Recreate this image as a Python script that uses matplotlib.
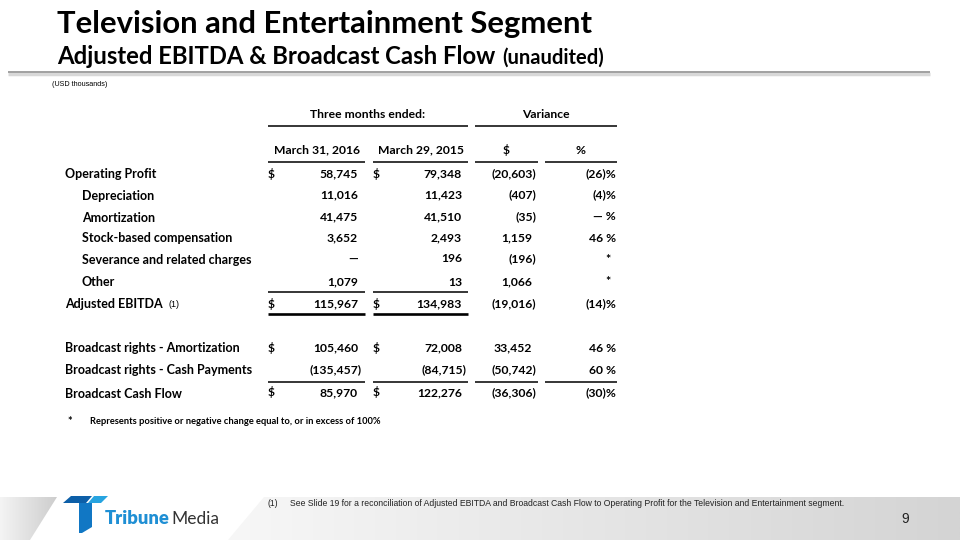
import matplotlib
matplotlib.use('Agg')
import matplotlib.pyplot as plt
import numpy as np
from matplotlib.patches import Polygon
from matplotlib.colors import LinearSegmentedColormap

# table data (USD thousands)
labels = ['Operating Profit', 'Depreciation', 'Amortization', 'Stock-based compensation',
          'Severance and related charges', 'Other', 'Adjusted EBITDA',
          'Broadcast rights - Amortization', 'Broadcast rights - Cash Payments',
          'Broadcast Cash Flow']
indent = [0, 1, 1, 1, 1, 1, 0, 0, 0, 0]
dollar_rows = [0, 6, 7, 9]
mar_2016 = [58745, 11016, 41475, 3652, None, 1079, 115967, 105460, -135457, 85970]
mar_2015 = [79348, 11423, 41510, 2493, 196, 13, 134983, 72008, -84715, 122276]
var_usd = [-20603, -407, -35, 1159, -196, 1066, -19016, 33452, -50742, -36306]
var_pct = [-26, -4, 0, 46, None, None, -14, 46, 60, -30]
col_heads = ['March 31, 2016', 'March 29, 2015', '$', '%']

FONT = ['Lato', 'DejaVu Sans']
ARIAL = ['Liberation Sans', 'DejaVu Sans']
FS_LAB = 9.0
FS_NUM = 8.7
FS_HEAD = 8.7


def fmt(v):
    if v is None:
        return '\u2014'
    if v < 0:
        return '({:,})'.format(-v)
    return '{:,}'.format(v)


def fmt_pct(v):
    if v is None:
        return '*'
    if v == 0:
        return '\u2014 %'
    if v < 0:
        return '({})%'.format(-v)
    return '{} %'.format(v)


def cell(x, y, s, ha='left', size=FS_NUM, drop=4.5):
    # y is the visual middle of the capitals; place on a common baseline
    return ax.text(x, y + drop, s, fontsize=size, fontweight='bold', family=FONT,
                   ha=ha, va='baseline', color='black')


fig = plt.figure(figsize=(9.6, 5.4), dpi=100)
ax = fig.add_axes([0, 0, 1, 1])

# footer band
grad = np.linspace(0, 1, 256).reshape(1, -1)
band = Polygon([(264, 497), (960, 497), (960, 540), (228, 540)], closed=True,
               facecolor='none', edgecolor='none')
ax.add_patch(band)
im = ax.imshow(grad, extent=(228, 960, 540, 497),
               cmap=LinearSegmentedColormap.from_list('g', ['#f7f7f7', '#d4d4d4']),
               aspect='auto', zorder=0)
im.set_clip_path(band)
left = Polygon([(0, 497), (57, 497), (30, 540), (0, 540)], closed=True,
               facecolor='none', edgecolor='none')
ax.add_patch(left)
im2 = ax.imshow(grad, extent=(0, 57, 540, 497),
                cmap=LinearSegmentedColormap.from_list('g2', ['#f4f4f4', '#cdcdcd']),
                aspect='auto', zorder=0)
im2.set_clip_path(left)
ax.set_xlim(0, 960)
ax.set_ylim(540, 0)
ax.axis('off')

# titles
ax.text(57, 33, 'Television and Entertainment Segment', fontsize=22.3, fontweight='bold',
        family=FONT, va='baseline', ha='left', color='black')
sub = ax.text(57, 64, 'Adjusted EBITDA & Broadcast Cash Flow', fontsize=17.2, fontweight='bold',
              family=FONT, va='baseline', ha='left', color='black')
ax.annotate('(unaudited)', xy=(1, 0), xycoords=sub, xytext=(5, 0), textcoords='offset points',
            fontsize=14.5, fontweight='bold', family=FONT, va='bottom', ha='left')
ax.plot([8, 930], [74, 74], color='#d8d8d8', lw=2.5, solid_capstyle='butt')
ax.plot([8, 930], [72, 72], color='#9a9a9a', lw=1.3, solid_capstyle='butt')
ax.text(52, 85, '(USD thousands)', fontsize=5.2, family=ARIAL, va='center', ha='left')

# header
col_span = [(268, 365), (373, 468), (475, 538), (545, 617)]
cell((268 + 468) / 2, 114, 'Three months ended:', ha='center', size=FS_HEAD)
cell((475 + 617) / 2, 114, 'Variance', ha='center', size=FS_HEAD)
ax.plot([268, 468], [126, 126], color='black', lw=1.1, solid_capstyle='butt')
ax.plot([475, 617], [126, 126], color='black', lw=1.1, solid_capstyle='butt')
for (x0, x1), h in zip(col_span, col_heads):
    cell((x0 + x1) / 2, 149, h, ha='center', size=FS_HEAD)
    ax.plot([x0, x1], [162, 162], color='black', lw=1.1, solid_capstyle='butt')

# rows
row_y = [174, 195, 217, 238, 259, 282, 304, 348, 370, 393]
right = [358, 462, 532, 616]
for i, lab in enumerate(labels):
    y = row_y[i]
    t = cell(65 + 17 * indent[i], y, lab, size=FS_LAB)
    if lab == 'Adjusted EBITDA':
        ax.annotate('(1)', xy=(1, 0.5), xycoords=t, xytext=(4, 0), textcoords='offset points',
                    fontsize=6.5, family=ARIAL, ha='left', va='center')
    if i in dollar_rows:
        cell(268, y, '$', drop=3.5)
        cell(373, y, '$', drop=3.5)
    for j, vals in enumerate([mar_2016, mar_2015, var_usd]):
        s = fmt(vals[i])
        cell(right[j] + (4 if s.endswith(')') else 0), y, s, ha='right', drop=3.5)
    p = fmt_pct(var_pct[i])
    cell(right[3] - (5 if p == '*' else 0), y, p, ha='right', drop=3.5)

# rules
for x0, x1 in col_span[:2]:
    ax.plot([x0, x1], [292, 292], color='black', lw=1.1, solid_capstyle='butt')
    ax.plot([x0, x1], [314, 314], color='black', lw=1.9, solid_capstyle='butt')
for x0, x1 in col_span:
    ax.plot([x0, x1], [382, 382], color='black', lw=1.1, solid_capstyle='butt')

cell(67, 421, '*', size=8)
cell(90, 420, 'Represents positive or negative change equal to, or in excess of 100%', size=6.75)

# footnote and page number
ax.text(268, 503, '(1)', fontsize=6.2, family=ARIAL, ha='left', va='center', color='#222222')
ax.text(290, 503, 'See Slide 19 for a reconciliation of Adjusted EBITDA and Broadcast Cash Flow '
        'to Operating Profit for the Television and Entertainment segment.',
        fontsize=6.2, family=ARIAL, ha='left', va='center', color='#222222')
ax.text(905, 519, '9', fontsize=10, family=ARIAL, ha='center', va='center', color='#222222')

# logo
ax.add_patch(Polygon([(63, 503), (71, 496), (92, 496), (86, 503)], closed=True,
                     facecolor='#0d5fa8', edgecolor='none'))
ax.add_patch(Polygon([(88, 503), (94, 496), (108, 496), (101, 503)], closed=True,
                     facecolor='#27a4e0', edgecolor='none'))
ax.add_patch(Polygon([(79, 503), (92, 503), (92, 527), (82, 533), (79, 533)], closed=True,
                     facecolor='#1177c4', edgecolor='none'))
tb = ax.text(105, 524, 'Tribune', fontsize=13.2, fontweight='heavy', family=FONT,
             color='#1f8fd4', ha='left', va='baseline')
ax.annotate('Media', xy=(1, 0), xycoords=tb, xytext=(1, 0), textcoords='offset points',
            fontsize=12.5, family=FONT, color='#333333', ha='left', va='bottom')

plt.savefig('out.png', dpi=100)
